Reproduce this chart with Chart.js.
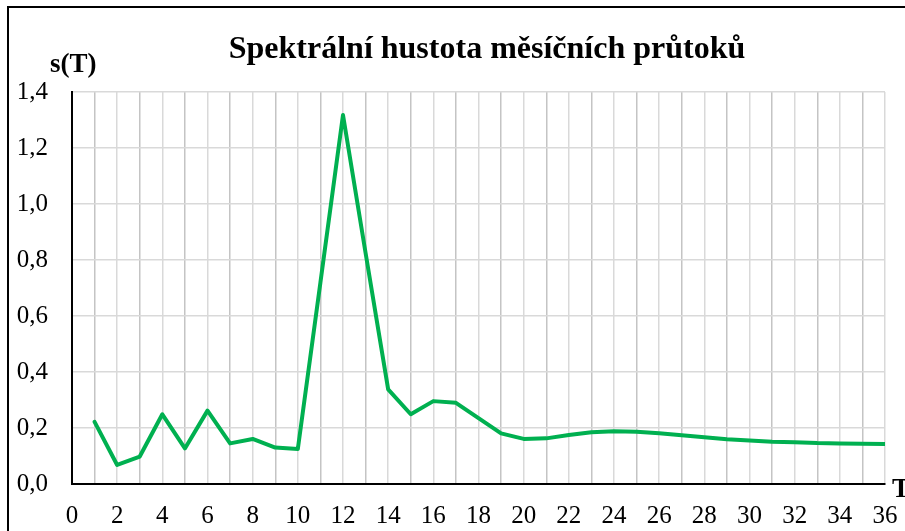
<!DOCTYPE html>
<html>
<head>
<meta charset="utf-8">
<script src="https://cdn.jsdelivr.net/npm/chart.js@4/dist/chart.umd.min.js"></script>
<style>
    html, body { margin: 0; padding: 0; background: #fff; overflow: hidden; }
    #wrap { position: relative; width: 905px; height: 531px; }
    #frame { position: absolute; left: 7px; top: 6px; width: 1200px; height: 900px;
             border-left: 2px solid #000; border-top: 2px solid #000; }
    canvas { position: absolute; left: 0; top: 0; }
    .lbl { position: absolute; font-family: 'Liberation Serif', 'Times New Roman', serif;
           font-weight: bold; color: #000; line-height: 1; white-space: nowrap; }
    #title { font-size: 32px; left: 487px; top: 31px; transform: translateX(-50%); }
    #ylab { font-size: 27px; left: 50px; top: 50px; }
    #xlab { font-size: 27px; left: 892px; top: 475px; }
</style>
</head>
<body>
<div id="wrap">
    <div id="frame"></div>
    <canvas id="spectrumChart" width="905" height="531"></canvas>
    <div class="lbl" id="title">Spektrální hustota měsíčních průtoků</div>
    <div class="lbl" id="ylab">s(T)</div>
    <div class="lbl" id="xlab">T</div>
</div>
<script>
// perioda T (měsíce)
const periods = [1, 2, 3, 4, 5, 6, 7, 8, 9, 10, 11, 12, 13, 14, 15, 16, 17, 18,
                 19, 20, 21, 22, 23, 24, 25, 26, 27, 28, 29, 30, 31, 32, 33, 34, 35, 36];
// spektrální hustota s(T)
const density = [0.222, 0.068, 0.098, 0.249, 0.127, 0.262, 0.145, 0.161, 0.130, 0.125,
                 0.720, 1.318, 0.825, 0.338, 0.249, 0.296, 0.290, 0.235, 0.181, 0.161,
                 0.163, 0.175, 0.185, 0.188, 0.187, 0.181, 0.174, 0.167, 0.160, 0.155,
                 0.151, 0.149, 0.146, 0.145, 0.144, 0.143];
// osy
const xMin = 0, xMax = 36;
const yMin = 0, yMax = 1.4, yStep = 0.2;

const points = periods.map((t, i) => ({ x: t, y: density[i] }));

const ctx = document.getElementById('spectrumChart').getContext('2d');
new Chart(ctx, {
    type: 'line',
    data: {
        datasets: [{
            label: 's(T)',
            data: points,
            borderColor: '#00b050',
            borderWidth: 4,
            borderJoinStyle: 'round',
            borderCapStyle: 'round',
            pointRadius: 0,
            tension: 0,
            fill: false
        }]
    },
    options: {
        responsive: false,
        devicePixelRatio: 1,
        animation: false,
        layout: { padding: { top: 92, right: 20, left: 0, bottom: 0 } },
        plugins: {
            legend: { display: false },
            title: { display: false },
            tooltip: { enabled: false }
        },
        scales: {
            x: {
                type: 'linear',
                min: xMin,
                max: xMax,
                afterFit: (scale) => {
                    scale.height = 47;
                    // posledni popisek "36" se vejde do okraje, neubirat plochu grafu
                    scale.paddingRight = 0;
                    scale.paddingLeft = 0;
                },
                ticks: {
                    stepSize: 1,
                    autoSkip: false,
                    maxRotation: 0,
                    padding: 17,
                    color: '#000',
                    font: { family: "'Liberation Serif', serif", size: 25 },
                    callback: (v) => (v % 2 === 0 ? String(v) : '')
                },
                grid: {
                    drawTicks: false,
                    lineWidth: 1.5,
                    color: (c) => (c.tick && c.tick.value % 2 ? '#c4c4c4' : '#d9d9d9')
                },
                border: { color: '#000', width: 2 }
            },
            y: {
                min: yMin,
                max: yMax,
                afterFit: (scale) => { scale.width = 72; },
                ticks: {
                    stepSize: yStep,
                    padding: 24,
                    color: '#000',
                    font: { family: "'Liberation Serif', serif", size: 25 },
                    callback: (v) => v.toFixed(1).replace('.', ',')
                },
                grid: {
                    drawTicks: false,
                    lineWidth: 1.5,
                    color: '#d9d9d9'
                },
                border: { color: '#000', width: 2 }
            }
        }
    }
});
</script>
</body>
</html>
